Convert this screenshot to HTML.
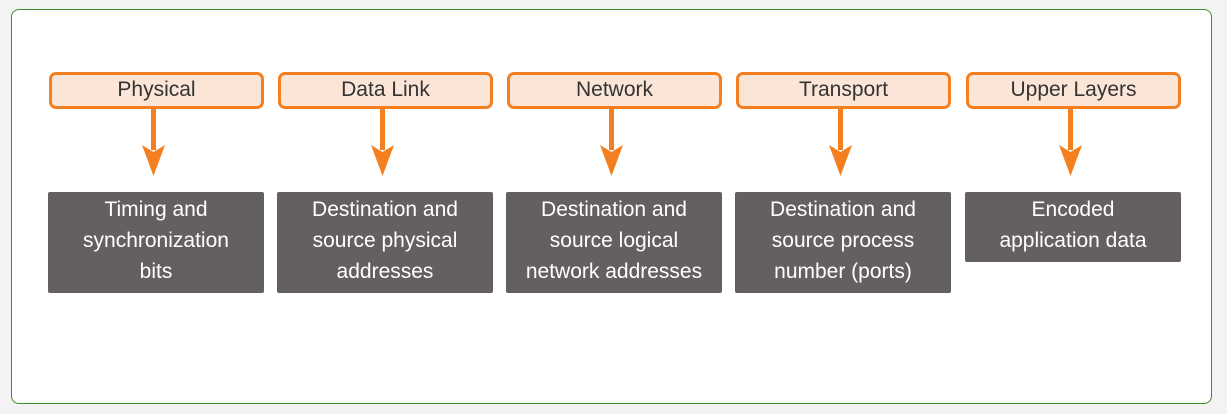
<!DOCTYPE html>
<html><head><style>
body{margin:0;width:1227px;height:414px;background:#f3f3f3;position:relative;overflow:hidden;font-family:"Liberation Sans",Arial,sans-serif}
.panel{position:absolute;left:11px;top:9px;width:1199px;height:393px;background:#fff;border:1px solid #3a8f2a;border-radius:8px}
.l{position:absolute;top:72px;width:209px;height:31px;border:3px solid #f47f20;border-radius:7px;background:#fbe5d6;color:#333;font-size:21px;text-align:center;line-height:29px}
.d{position:absolute;top:192px;width:216px;background:#656060;color:#fff;font-size:21px;text-align:center;line-height:31px;padding-top:2px;border-radius:2px}
svg{position:absolute;left:0;top:0}
</style></head><body>
<div class="panel"></div>
<div class="l" style="left:49px">Physical</div>
<div class="l" style="left:278px">Data Link</div>
<div class="l" style="left:507px">Network</div>
<div class="l" style="left:736px">Transport</div>
<div class="l" style="left:966px">Upper Layers</div>
<svg width="1227" height="414">
<g fill="#f47f20" stroke="none">
<g id="a"><rect x="151" y="108" width="5" height="42"/><polygon points="142,145 153.5,152 165,145 153.5,176"/></g>
<use href="#a" x="229"/><use href="#a" x="458"/><use href="#a" x="687"/><use href="#a" x="917"/>
</g></svg>
<div class="d" style="left:48px;height:99px">Timing and<br>synchronization<br>bits</div>
<div class="d" style="left:277px;height:99px">Destination and<br>source physical<br>addresses</div>
<div class="d" style="left:506px;height:99px">Destination and<br>source logical<br>network addresses</div>
<div class="d" style="left:735px;height:99px">Destination and<br>source process<br>number (ports)</div>
<div class="d" style="left:965px;height:68px">Encoded<br>application data</div>
</body></html>
